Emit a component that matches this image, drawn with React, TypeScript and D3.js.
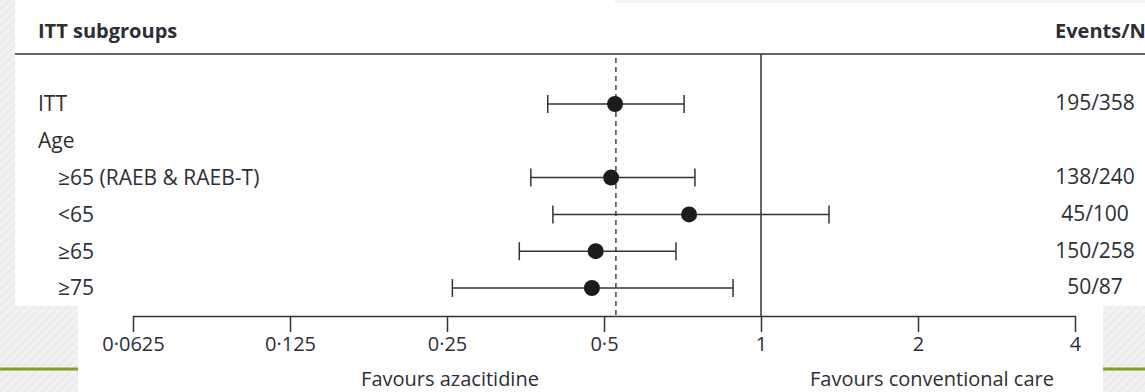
import { useEffect, useRef } from 'react'
import * as d3 from 'd3'

const rowLabels = ['ITT', 'Age', '≥65 (RAEB & RAEB-T)', '<65', '≥65', '≥75']
const rowIndent = [0, 0, 1, 1, 1, 1]
const hazardRatio = [0.525, null, 0.516, 0.728, 0.482, 0.474]
const ciLower = [0.39, null, 0.362, 0.399, 0.344, 0.256]
const ciUpper = [0.712, null, 0.747, 1.35, 0.687, 0.884]
const eventsN = ['195/358', '', '138/240', '45/100', '150/258', '50/87']
const tickValues = [0.0625, 0.125, 0.25, 0.5, 1, 2, 4]
const overallHR = 0.527

const W = 1145
const H = 392
const FONT = '"Open Sans", sans-serif'
const INK = '#2e2e36'

export default function App() {
  const svgRef = useRef<SVGSVGElement>(null)

  useEffect(() => {
    document.body.style.margin = '0'
    if (!svgRef.current) return
    const svg = d3.select(svgRef.current)
    svg.selectAll('*').remove()

    // slide background with a faint texture
    const defs = svg.append('defs')
    const pat = defs
      .append('pattern')
      .attr('id', 'tex')
      .attr('width', 6)
      .attr('height', 6)
      .attr('patternUnits', 'userSpaceOnUse')
      .attr('patternTransform', 'rotate(45)')
    pat.append('rect').attr('width', 6).attr('height', 6).attr('fill', '#f1f1f1')
    pat.append('line').attr('x1', 0).attr('x2', 0).attr('y1', 0).attr('y2', 6).attr('stroke', '#e6e6e6').attr('stroke-width', 2)
    svg.append('rect').attr('width', W).attr('height', H).attr('fill', 'url(#tex)')

    svg.append('line')
      .attr('x1', 0).attr('x2', W).attr('y1', 369).attr('y2', 369)
      .attr('stroke', '#819f2f').attr('stroke-width', 3)

    svg.append('rect').attr('x', 15).attr('y', 0).attr('width', W - 15).attr('height', 306).attr('fill', '#fff')
    svg.append('rect').attr('x', 615).attr('y', 0).attr('width', W - 615).attr('height', 3).attr('fill', '#f3f3f3')
    svg.append('rect').attr('x', 78).attr('y', 305).attr('width', 1103 - 78).attr('height', H - 305).attr('fill', '#fff')

    const x = d3.scaleLog().base(2).domain([0.0625, 4]).range([133, 1075])
    const y = d3.scalePoint<number>().domain(d3.range(rowLabels.length)).range([104, 288])
    const axisY = 316
    const headerY = 54

    // header
    svg.append('text')
      .attr('x', 38).attr('y', 38)
      .style('font-family', FONT).style('font-size', '20px').style('font-weight', 700)
      .attr('fill', INK)
      .text('ITT subgroups')
    svg.append('text')
      .attr('x', 1055).attr('y', 38)
      .style('font-family', FONT).style('font-size', '20px').style('font-weight', 700)
      .attr('fill', INK)
      .text('Events/N')
    svg.append('line')
      .attr('x1', 15).attr('x2', W).attr('y1', headerY).attr('y2', headerY)
      .attr('stroke', '#333').attr('stroke-width', 1.5)

    // reference lines
    svg.append('line')
      .attr('x1', x(1)).attr('x2', x(1)).attr('y1', headerY).attr('y2', axisY)
      .attr('stroke', '#333').attr('stroke-width', 1.5)
    svg.append('line')
      .attr('x1', x(overallHR)).attr('x2', x(overallHR)).attr('y1', 58).attr('y2', axisY)
      .attr('stroke', '#444').attr('stroke-width', 1.5).attr('stroke-dasharray', '5,4')

    // axis
    const axis = d3
      .axisBottom(x)
      .tickValues(tickValues)
      .tickSizeOuter(0)
      .tickSizeInner(16)
      .tickPadding(5)
      .tickFormat((d) => String(d).replace('.', '·'))
    const ag = svg.append('g').attr('transform', `translate(0,${axisY})`).call(axis)
    ag.select('.domain').attr('stroke', '#333').attr('stroke-width', 1.5)
    ag.selectAll('.tick line').attr('stroke', '#333').attr('stroke-width', 1.5)
    ag.selectAll('.tick text')
      .attr('fill', INK)
      .style('font-family', FONT)
      .style('font-size', '20px')

    svg.append('text')
      .attr('x', 450).attr('y', 386).attr('text-anchor', 'middle')
      .style('font-family', FONT).style('font-size', '20px').attr('fill', INK)
      .text('Favours azacitidine')
    svg.append('text')
      .attr('x', 932).attr('y', 386).attr('text-anchor', 'middle')
      .style('font-family', FONT).style('font-size', '20px').attr('fill', INK)
      .text('Favours conventional care')

    // rows
    rowLabels.forEach((label, i) => {
      const cy = y(i)!
      svg.append('text')
        .attr('x', 38 + rowIndent[i] * 20).attr('y', cy).attr('dy', '0.35em')
        .style('font-family', FONT).style('font-size', '21px').attr('fill', INK)
        .text(label)
      if (eventsN[i]) {
        svg.append('text')
          .attr('x', 1095).attr('y', cy - 1).attr('dy', '0.35em').attr('text-anchor', 'middle')
          .style('font-family', FONT).style('font-size', '21px').attr('fill', INK)
          .text(eventsN[i])
      }
      const hr = hazardRatio[i]
      const lo = ciLower[i]
      const hi = ciUpper[i]
      if (hr == null || lo == null || hi == null) return
      svg.append('line')
        .attr('x1', x(lo)).attr('x2', x(hi)).attr('y1', cy).attr('y2', cy)
        .attr('stroke', '#333').attr('stroke-width', 1.5)
      ;[lo, hi].forEach((v) => {
        svg.append('line')
          .attr('x1', x(v)).attr('x2', x(v)).attr('y1', cy - 9).attr('y2', cy + 9)
          .attr('stroke', '#333').attr('stroke-width', 1.5)
      })
      svg.append('circle')
        .attr('cx', x(hr)).attr('cy', cy).attr('r', 8)
        .attr('fill', '#1c1c1c')
    })
  }, [])

  return <svg ref={svgRef} width={W} height={H} style={{ display: 'block' }} />
}
